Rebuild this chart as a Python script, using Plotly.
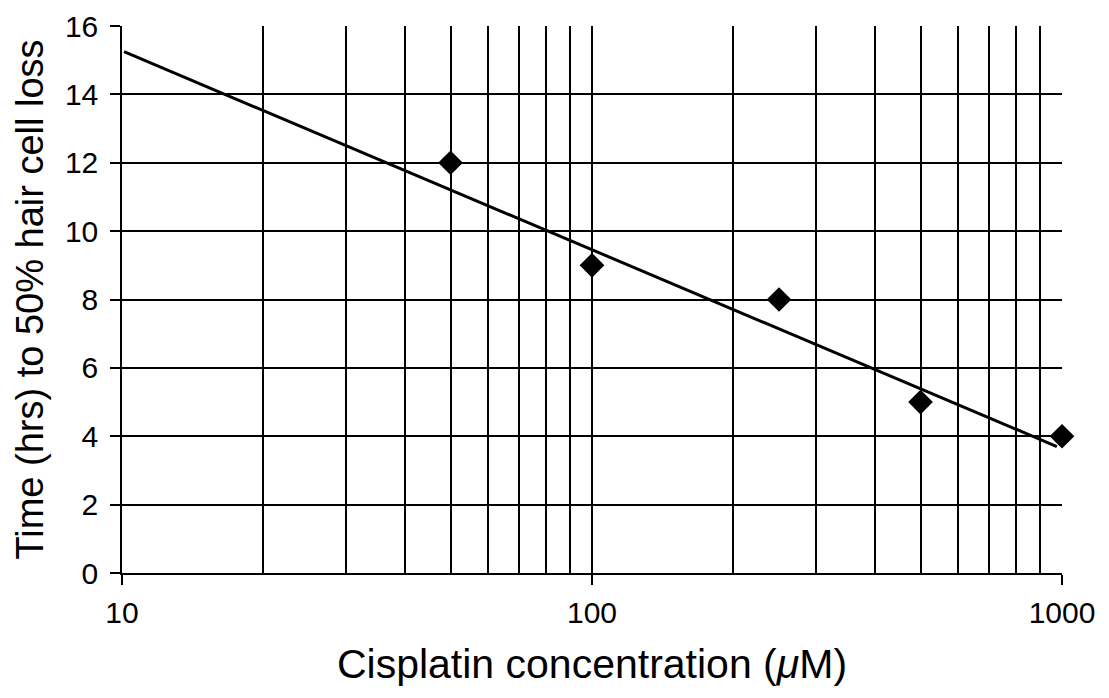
import plotly.graph_objects as go

# measured points
conc_um = [50, 100, 250, 500, 1000]
time_hrs = [12, 9, 8, 5, 4]

# trend line endpoints
trend_x = [10.1, 975]
trend_y = [15.25, 3.7]

major_x = [10, 100, 1000]
minor_x = [20, 30, 40, 50, 60, 70, 80, 90, 200, 300, 400, 500, 600, 700, 800, 900]
y_ticks = [0, 2, 4, 6, 8, 10, 12, 14, 16]

FONT = "Liberation Sans, Arial, sans-serif"

fig = go.Figure()

fig.add_trace(go.Scatter(
    x=trend_x, y=trend_y, mode="lines",
    line=dict(color="black", width=3),
    showlegend=False, cliponaxis=False
))

fig.add_trace(go.Scatter(
    x=conc_um, y=time_hrs, mode="markers",
    marker=dict(symbol="diamond", size=19, color="black"),
    showlegend=False, cliponaxis=False
))

fig.update_xaxes(
    type="log", range=[1, 3], automargin=False,
    tickvals=major_x, ticktext=[str(v) for v in major_x],
    ticks="outside", ticklen=10, tickwidth=1.5, tickcolor="black",
    ticklabelstandoff=2,
    showgrid=True, gridcolor="black", gridwidth=1.5,
    minor=dict(tickvals=minor_x, showgrid=True, gridcolor="black", gridwidth=1.5, ticks=""),
    showline=True, linecolor="black", linewidth=1.5,
    tickfont=dict(family=FONT, size=30, color="black"),
    title=dict(text="Cisplatin concentration (<i>μ</i>M)", font=dict(family=FONT, size=41, color="black"), standoff=22),
    zeroline=False,
)

fig.update_yaxes(
    range=[0, 16], tickvals=y_ticks, automargin=False,
    ticks="outside", ticklen=10, tickwidth=1.5, tickcolor="black",
    ticklabelstandoff=6,
    showgrid=True, gridcolor="black", gridwidth=1.5,
    showline=True, linecolor="black", linewidth=1.5,
    tickfont=dict(family=FONT, size=30, color="black"),
    title=dict(text="Time (hrs) to 50% hair cell loss", font=dict(family=FONT, size=38, color="black"), standoff=10),
    zeroline=False,
)

# page body has an 8px margin, so shrink the figure to keep the plot where it sits in the reference
fig.update_layout(
    width=1101, height=690,
    margin=dict(l=114, r=47, t=18, b=125),
    plot_bgcolor="white", paper_bgcolor="white",
)

fig.write_html("out.html")
